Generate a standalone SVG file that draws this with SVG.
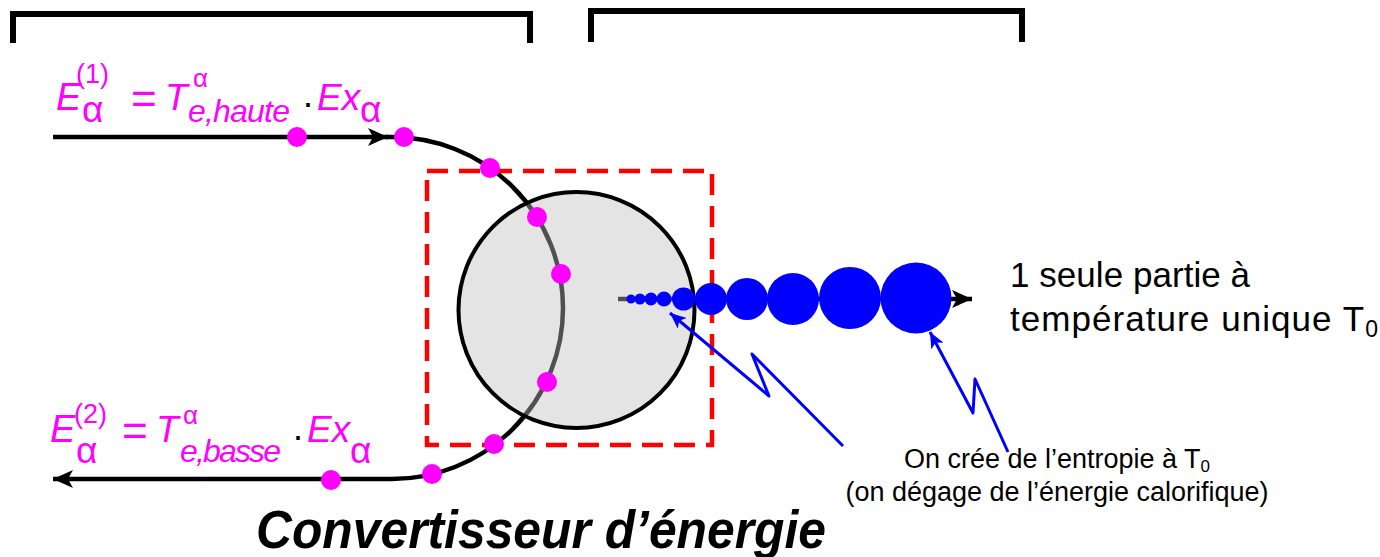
<svg xmlns="http://www.w3.org/2000/svg" width="1380" height="557" viewBox="0 0 1380 557">
<style>
.t{font-family:"Liberation Sans",Arial,sans-serif}
.m{fill:#ff00ff}
.it{font-style:italic}
.blk{fill:#000}
.br{fill:none;stroke:#000;stroke-width:6;stroke-linejoin:miter}
.ln{fill:none;stroke:#000;stroke-width:4.5}
.dot{fill:#ff00ff}
.bead{fill:#0000ff}
.bl{fill:none;stroke:#0000ff;stroke-width:3;stroke-linejoin:round}
</style>
<defs>
<marker id="ah" viewBox="0 0 20 18" refX="20" refY="9" markerWidth="20" markerHeight="18" markerUnits="userSpaceOnUse" orient="auto"><path d="M0,0 L20,9 L0,18 L5,9 z" fill="#000"/></marker>
<marker id="bh" viewBox="0 0 16 14" refX="16" refY="7" markerWidth="16" markerHeight="14" markerUnits="userSpaceOnUse" orient="auto-start-reverse"><path d="M0,0 L16,7 L0,14 L4,7 z" fill="#0000ff"/></marker>
</defs>
<rect width="1380" height="557" fill="#fff"/>
<g id="brackets">
<path class="br" d="M13,43 V14 H530 V43"/>
<path class="br" d="M591,42 V11 H1022 V42"/>
</g>
<g id="connectors">
<path class="ln" d="M53,137 H388" marker-end="url(#ah)"/>
<path class="ln" d="M386,137 H392 A171,171 0 0 1 392,479 H53" marker-end="url(#ah)"/>
<path d="M618,299 H972" fill="none" stroke="#000" stroke-width="4.5" marker-end="url(#ah)"/>
</g>
<g id="converter">
<circle cx="576.5" cy="310" r="118" fill="#bebebe" fill-opacity="0.42" stroke="#000" stroke-width="4"/>
</g>
<g id="boundary">
<rect x="427" y="171" width="285" height="274" fill="none" stroke="#ff0000" stroke-width="4.5" stroke-dasharray="21 11"/>
</g>
<g id="points">
<circle class="dot" cx="297" cy="137" r="10"/>
<circle class="dot" cx="404" cy="137" r="10"/>
<circle class="dot" cx="490" cy="168" r="10"/>
<circle class="dot" cx="537" cy="217" r="10"/>
<circle class="dot" cx="561" cy="274" r="10"/>
<circle class="dot" cx="547" cy="382" r="10"/>
<circle class="dot" cx="494" cy="444" r="10"/>
<circle class="dot" cx="432" cy="474" r="10"/>
<circle class="dot" cx="331" cy="480" r="10"/>
</g>
<g id="entropy">
<circle class="bead" cx="631" cy="299" r="4.5"/>
<circle class="bead" cx="640" cy="299" r="5.5"/>
<circle class="bead" cx="651" cy="299" r="6.5"/>
<circle class="bead" cx="664" cy="299" r="7.5"/>
<circle class="bead" cx="683.5" cy="299" r="11.5"/>
<circle class="bead" cx="711" cy="299" r="16"/>
<circle class="bead" cx="747" cy="299" r="21"/>
<circle class="bead" cx="793" cy="299" r="26"/>
<circle class="bead" cx="850" cy="298" r="31"/>
<circle class="bead" cx="916" cy="298" r="35.5"/>
</g>
<g id="pointers">
<path class="bl" d="M670,313 L769,396 L752,354 L843,446" marker-start="url(#bh)"/>
<path class="bl" d="M930,332 L973,413 L975,379 L1008,452" marker-start="url(#bh)"/>
</g>
<g id="eq1" class="t">
<text class="m it" x="56" y="110" font-size="38">E</text>
<text class="m" x="76" y="83" font-size="27">(1)</text>
<text class="m" x="82" y="122" font-size="37">α</text>
<text class="m" x="131" y="114" font-size="44">=</text>
<text class="m it" x="165" y="110" font-size="37">T</text>
<text class="m" x="193" y="87" font-size="26">α</text>
<text class="m it" x="188" y="122" font-size="32" textLength="102">e,haute</text>
<text class="blk" x="302" y="114.5" font-size="36">·</text>
<text class="m it" x="317" y="110" font-size="37">Ex</text>
<text class="m" x="360" y="122" font-size="37">α</text>
</g>
<g id="eq2" class="t">
<text class="m it" x="50" y="442" font-size="38">E</text>
<text class="m" x="74" y="423" font-size="27">(2)</text>
<text class="m" x="76" y="463" font-size="37">α</text>
<text class="m" x="122" y="446" font-size="44">=</text>
<text class="m it" x="156" y="442" font-size="37">T</text>
<text class="m" x="183" y="424" font-size="26">α</text>
<text class="m it" x="180" y="462" font-size="32" textLength="101">e,basse</text>
<text class="blk" x="292" y="448" font-size="36">·</text>
<text class="m it" x="307" y="442" font-size="37">Ex</text>
<text class="m" x="350" y="463" font-size="37">α</text>
</g>
<g id="label-right" class="t blk">
<text x="1010" y="287" font-size="35" textLength="240">1 seule partie à</text>
<text x="1010" y="331" font-size="35" textLength="368">température unique T<tspan font-size="23" dy="6">0</tspan></text>
</g>
<g id="label-entropy" class="t blk" text-anchor="middle">
<text x="1057" y="468" font-size="27">On crée de l’entropie à T<tspan font-size="17" dy="4">0</tspan></text>
<text x="1057" y="501" font-size="27" textLength="423">(on dégage de l’énergie calorifique)</text>
</g>
<g id="title" class="t blk">
<text x="256" y="548" font-size="54" font-weight="bold" font-style="italic" textLength="570" lengthAdjust="spacingAndGlyphs">Convertisseur d’énergie</text>
</g>
</svg>
